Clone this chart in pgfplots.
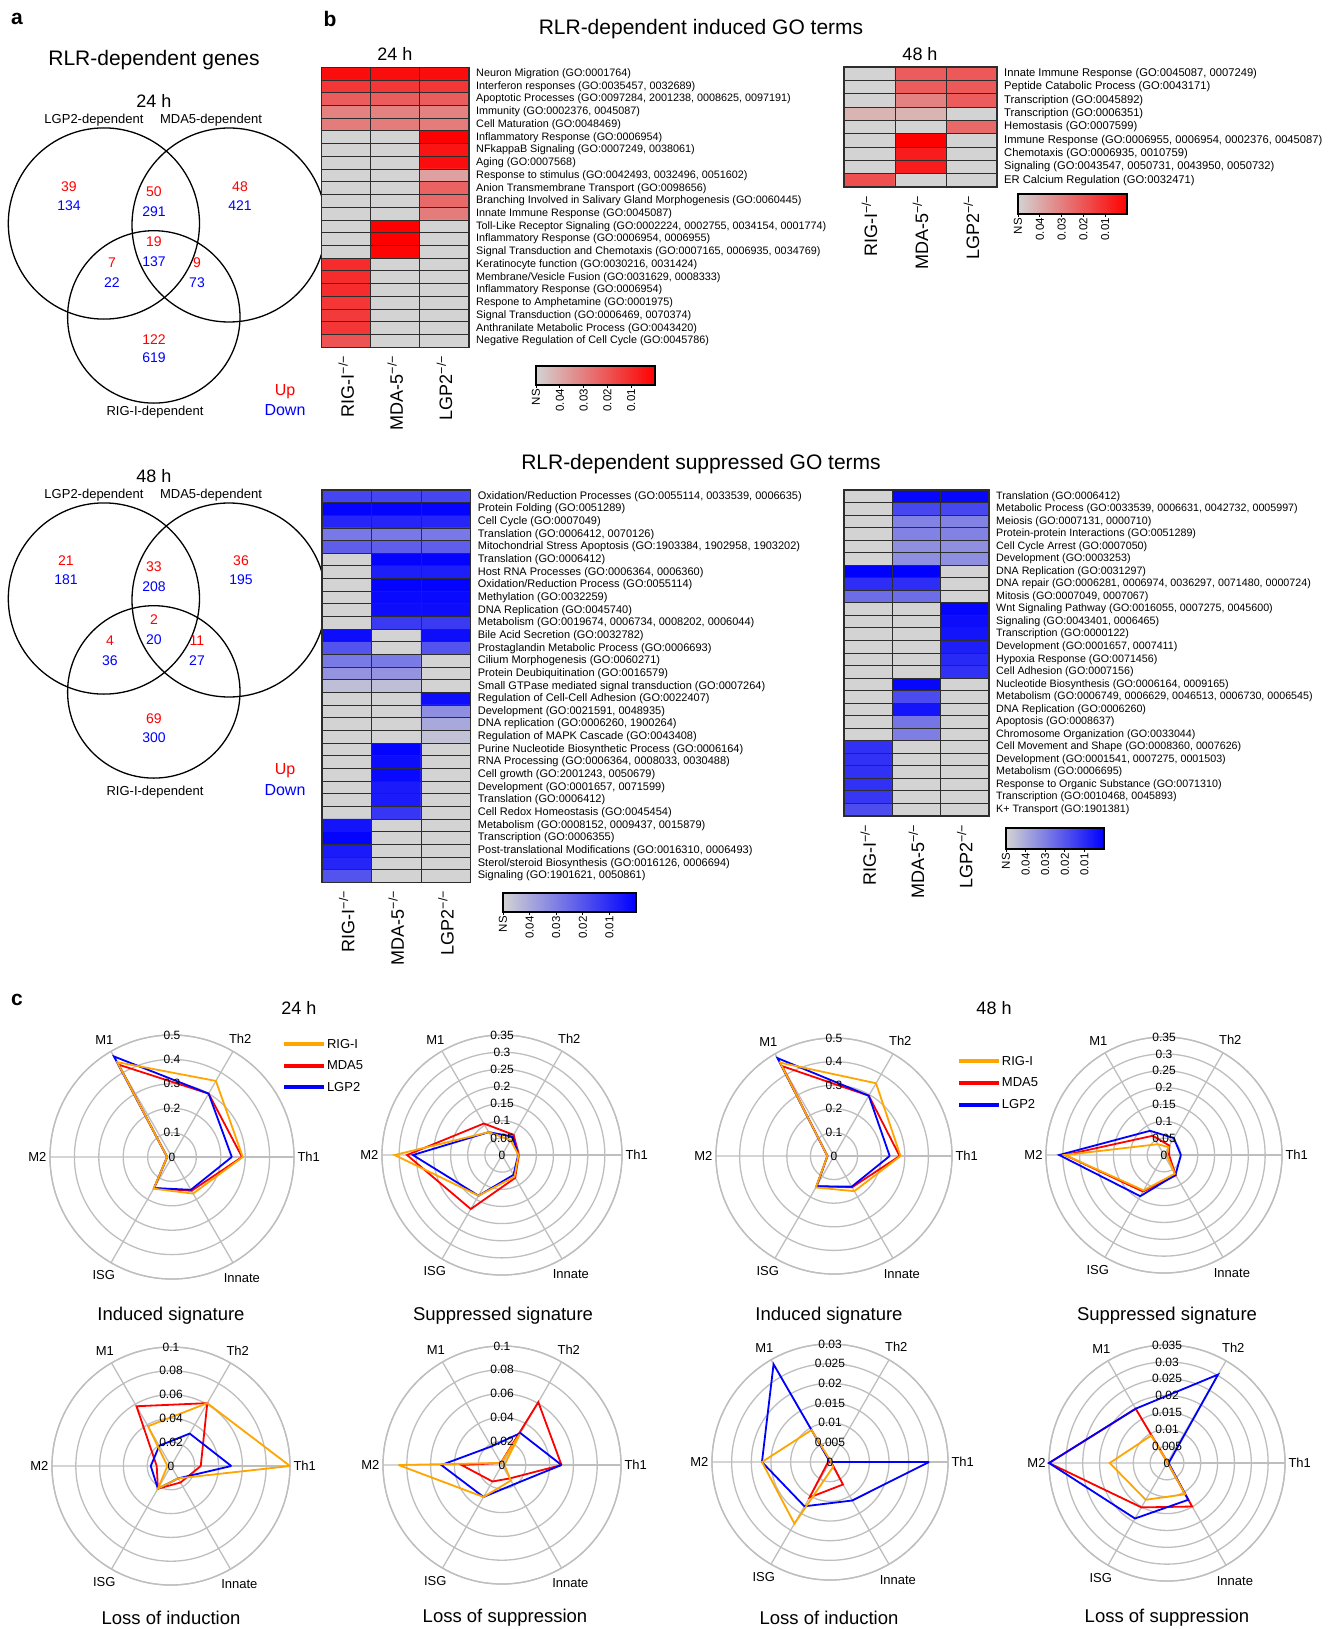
\documentclass[border=0pt]{standalone}
\usepackage{pgfplots}
\pgfplotsset{compat=1.18}
\usepgfplotslibrary{polar}
\usepackage{fontspec}
\setmainfont{Liberation Sans}
\newcommand{\fs}[1]{\fontsize{#1}{#1}\selectfont}
\definecolor{nsgray}{RGB}{211,211,211}
\definecolor{rorange}{RGB}{255,165,0}
\definecolor{rred}{RGB}{255,0,0}
\definecolor{rblue}{RGB}{0,0,255}
\definecolor{ringgray}{RGB}{190,190,190}
\definecolor{cellline}{RGB}{45,45,45}
\tikzset{rlab/.style={font=\fs{12}, inner sep=0pt}}
\newcommand{\rl}[2]{\node[rlab] at (axis cs:90,#1) {#2};}
\pgfplotsset{
  colormap={reds}{rgb255=(211,211,211) rgb255=(255,0,0)},
  colormap={blues}{rgb255=(211,211,211) rgb255=(0,0,255)},
  hmap/.style={
    scale only axis, anchor=north west, enlargelimits=false, axis on top,
    y dir=reverse, xmin=-0.5, xmax=2.5,
    xtick={0,1,2},
    xticklabels={RIG-I\textsuperscript{−/−},MDA-5\textsuperscript{−/−},LGP2\textsuperscript{−/−}},
    xticklabel pos=lower,
    xticklabel style={rotate=90, anchor=east, font=\fs{18}, inner sep=0pt},
    xticklabel shift=8pt,
    yticklabel pos=right,
    yticklabel style={anchor=west, inner sep=0pt},
    yticklabel shift=7pt,
    major tick length=0pt, minor tick length=0pt,
    minor xtick={0.5,1.5},
    xminorgrids, yminorgrids,
    minor grid style={draw=cellline, line width=0.9pt},
    axis line style={draw=cellline, line width=1.2pt},
    point meta min=0, point meta max=1,
  },
  cbar/.style={
    scale only axis, anchor=north west, xmin=0, xmax=1, ymin=0, ymax=1,
    ytick=\empty, xtick={0,0.2,0.4,0.6,0.8},
    xticklabels={NS,0.04,0.03,0.02,0.01},
    xticklabel style={rotate=90, anchor=east, font=\fs{11.5}, inner sep=1pt},
    xtick pos=bottom, tick align=outside, major tick length=3pt,
    tick style={black, line width=0.8pt},
    axis on top, axis line style={line width=1.3pt, black},
  },
  radar/.style={
    scale only axis, anchor=center, clip=false,
    xmin=0, xmax=360, ymin=0,
    xtick={0,60,120,180,240,300},
    xticklabels={Th1,Th2,M1,M2,ISG,Innate},
    xticklabel style={font=\fs{13}},
    yticklabels={}, scaled y ticks=false,
    yticklabel style={opacity=0},
    major tick length=0pt,
    xmajorgrids, ymajorgrids,
    major grid style={draw=ringgray, line width=1.3pt},
    axis line style={draw=ringgray, line width=1.3pt},
    every axis plot/.append style={line width=1.8pt, line join=miter, miter limit=4},
  },
  rleg/.style={
    legend style={draw=none, fill=none, font=\fs{13}, row sep=9pt, inner sep=0pt,
      nodes={inner sep=1pt}, cells={anchor=west}},
    legend image code/.code={\draw[##1, line width=4pt] (0pt,0pt) -- (40pt,0pt);},
  },
}
\begin{document}
\begin{tikzpicture}
\useasboundingbox (0pt,0pt) rectangle (1333pt,-1629pt);

% ---------------- panel a : Venn diagrams ----------------
\begin{scope}[x=1pt,y=-1pt]
\node[font=\fs{21}\bfseries] at (17,19) {a};
\node[font=\fs{21}\bfseries] at (330,19) {b};
\node[font=\fs{21}\bfseries] at (17,1000) {c};
\node[font=\fs{21}] at (154,60) {RLR-dependent genes};
% 24 h
\node[font=\fs{18}] at (154,101) {24 h};
\node[font=\fs{13}] at (94,120) {LGP2-dependent};
\node[font=\fs{13}] at (211,120) {MDA5-dependent};
\draw[line width=1.3pt] (103.9,223.5) circle[radius=95.6pt];
\draw[line width=1.3pt] (229,225) circle[radius=97pt];
\draw[line width=1.3pt] (153.8,316.9) circle[radius=86.2pt];
\begin{scope}[font=\fs{14}]
\node[rred] at (69,187) {39}; \node[rblue] at (69,206) {134};
\node[rred] at (154,192) {50}; \node[rblue] at (154,212) {291};
\node[rred] at (240,187) {48}; \node[rblue] at (240,206) {421};
\node[rred] at (112,263) {7}; \node[rblue] at (112,283) {22};
\node[rred] at (154,242) {19}; \node[rblue] at (154,262) {137};
\node[rred] at (197,263) {9}; \node[rblue] at (197,283) {73};
\node[rred] at (154,340) {122}; \node[rblue] at (154,358) {619};
\end{scope}
\node[font=\fs{13}] at (155,412) {RIG-I-dependent};
\node[font=\fs{16}, rred] at (285,392) {Up};
\node[font=\fs{16}, rblue] at (285,410) {Down};
% 48 h
\node[font=\fs{18}] at (154,476) {48 h};
\node[font=\fs{13}] at (94,495) {LGP2-dependent};
\node[font=\fs{13}] at (211,495) {MDA5-dependent};
\draw[line width=1.3pt] (103.9,598.5) circle[radius=95.6pt];
\draw[line width=1.3pt] (229,600) circle[radius=97pt];
\draw[line width=1.3pt] (153.8,691.9) circle[radius=86.2pt];
\begin{scope}[font=\fs{14}]
\node[rred] at (66,561) {21}; \node[rblue] at (66,580) {181};
\node[rred] at (154,567) {33}; \node[rblue] at (154,587) {208};
\node[rred] at (241,561) {36}; \node[rblue] at (241,580) {195};
\node[rred] at (110,641) {4}; \node[rblue] at (110,661) {36};
\node[rred] at (154,620) {2}; \node[rblue] at (154,640) {20};
\node[rred] at (197,641) {11}; \node[rblue] at (197,661) {27};
\node[rred] at (154,719) {69}; \node[rblue] at (154,738) {300};
\end{scope}
\node[font=\fs{13}] at (155,792) {RIG-I-dependent};
\node[font=\fs{16}, rred] at (285,771) {Up};
\node[font=\fs{16}, rblue] at (285,790) {Down};
% panel b / c headings
\node[font=\fs{21}] at (701,29) {RLR-dependent induced GO terms};
\node[font=\fs{21}] at (701,464) {RLR-dependent suppressed GO terms};
\node[font=\fs{18}] at (395,54) {24 h};
\node[font=\fs{18}] at (920,54) {48 h};
\node[font=\fs{18}] at (299,1008) {24 h};
\node[font=\fs{18}] at (994,1008) {48 h};
\begin{scope}[font=\fs{18.5}]
\node at (171,1316) {Induced signature};
\node at (503,1316) {Suppressed signature};
\node at (829,1316) {Induced signature};
\node at (1167,1316) {Suppressed signature};
\node at (171,1618) {Loss of induction};
\node at (505,1618) {Loss of suppression};
\node at (829,1618) {Loss of induction};
\node at (1167,1618) {Loss of suppression};
\end{scope}
\end{scope}

% ---------------- heatmap: 24 h induced ----------------
\begin{axis}[hmap, colormap name=reds, at={(321.7pt,-67.3pt)}, width=147.3pt, height=280pt,
  ymin=-0.5, ymax=21.5, ytick={0,...,21}, minor ytick={0.5,1.5,...,20.5},
  yticklabel style={font=\fs{10.8}},
  yticklabels={{Neuron Migration (GO:0001764)},{Interferon responses (GO:0035457, 0032689)},{Apoptotic Processes (GO:0097284, 2001238, 0008625, 0097191)},{Immunity (GO:0002376, 0045087)},{Cell Maturation (GO:0048469)},{Inflammatory Response (GO:0006954)},{NFkappaB Signaling (GO:0007249, 0038061)},{Aging (GO:0007568)},{Response to stimulus (GO:0042493, 0032496, 0051602)},{Anion Transmembrane Transport (GO:0098656)},{Branching Involved in Salivary Gland Morphogenesis (GO:0060445)},{Innate Immune Response (GO:0045087)},{Toll-Like Receptor Signaling (GO:0002224, 0002755, 0034154, 0001774)},{Inflammatory Response (GO:0006954, 0006955)},{Signal Transduction and Chemotaxis (GO:0007165, 0006935, 0034769)},{Keratinocyte function (GO:0030216, 0031424)},{Membrane/Vesicle Fusion (GO:0031629, 0008333)},{Inflammatory Response (GO:0006954)},{Respone to Amphetamine (GO:0001975)},{Signal Transduction (GO:0006469, 0070374)},{Anthranilate Metabolic Process (GO:0043420)},{Negative Regulation of Cell Cycle (GO:0045786)}}]
\addplot[matrix plot*, mesh/cols=3, point meta=explicit] coordinates {
(0,0)[.93] (1,0)[.93] (2,0)[.93]
(0,1)[.74] (1,1)[.74] (2,1)[.74]
(0,2)[.56] (1,2)[.56] (2,2)[.56]
(0,3)[.38] (1,3)[.38] (2,3)[.38]
(0,4)[.41] (1,4)[.41] (2,4)[.41]
(0,5)[0] (1,5)[0] (2,5)[1]
(0,6)[0] (1,6)[0] (2,6)[.9]
(0,7)[0] (1,7)[0] (2,7)[.93]
(0,8)[0] (1,8)[0] (2,8)[.24]
(0,9)[0] (1,9)[0] (2,9)[.53]
(0,10)[0] (1,10)[0] (2,10)[.5]
(0,11)[0] (1,11)[0] (2,11)[.41]
(0,12)[0] (1,12)[1] (2,12)[0]
(0,13)[0] (1,13)[1] (2,13)[0]
(0,14)[0] (1,14)[.97] (2,14)[0]
(0,15)[.79] (1,15)[0] (2,15)[0]
(0,16)[.79] (1,16)[0] (2,16)[0]
(0,17)[.79] (1,17)[0] (2,17)[0]
(0,18)[.74] (1,18)[0] (2,18)[0]
(0,19)[.72] (1,19)[0] (2,19)[0]
(0,20)[.74] (1,20)[0] (2,20)[0]
(0,21)[.6] (1,21)[0] (2,21)[0]
};
\end{axis}
\begin{axis}[cbar, at={(536pt,-366pt)}, width=119pt, height=19pt]
\shade[left color=nsgray, right color=rred] (axis cs:0,0) rectangle (axis cs:1,1);
\end{axis}

% ---------------- heatmap: 48 h induced ----------------
\begin{axis}[hmap, colormap name=reds, at={(844pt,-67pt)}, width=153pt, height=120pt,
  ymin=-0.5, ymax=8.5, ytick={0,...,8}, minor ytick={0.5,1.5,...,7.5},
  yticklabel style={font=\fs{11.2}},
  yticklabels={{Innate Immune Response (GO:0045087, 0007249)},{Peptide Catabolic Process (GO:0043171)},{Transcription (GO:0045892)},{Transcription (GO:0006351)},{Hemostasis (GO:0007599)},{Immune Response (GO:0006955, 0006954, 0002376, 0045087)},{Chemotaxis (GO:0006935, 0010759)},{Signaling (GO:0043547, 0050731, 0043950, 0050732)},{ER Calcium Regulation (GO:0032471)}}]
\addplot[matrix plot*, mesh/cols=3, point meta=explicit] coordinates {
(0,0)[0] (1,0)[.56] (2,0)[.58]
(0,1)[0] (1,1)[.56] (2,1)[.58]
(0,2)[0] (1,2)[.38] (2,2)[.56]
(0,3)[.15] (1,3)[.15] (2,3)[0]
(0,4)[0] (1,4)[0] (2,4)[.5]
(0,5)[0] (1,5)[1] (2,5)[0]
(0,6)[0] (1,6)[.86] (2,6)[0]
(0,7)[0] (1,7)[.86] (2,7)[0]
(0,8)[.62] (1,8)[0] (2,8)[0]
};
\end{axis}
\begin{axis}[cbar, at={(1018pt,-194pt)}, width=109pt, height=20pt]
\shade[left color=nsgray, right color=rred] (axis cs:0,0) rectangle (axis cs:1,1);
\end{axis}

% ---------------- heatmap: 24 h suppressed ----------------
\begin{axis}[hmap, colormap name=blues, at={(322pt,-490pt)}, width=148.7pt, height=392.3pt,
  ymin=-0.5, ymax=30.5, ytick={0,...,30}, minor ytick={0.5,1.5,...,29.5},
  yticklabel style={font=\fs{11}},
  yticklabels={{Oxidation/Reduction Processes (GO:0055114, 0033539, 0006635)},{Protein Folding (GO:0051289)},{Cell Cycle (GO:0007049)},{Translation (GO:0006412, 0070126)},{Mitochondrial Stress Apoptosis (GO:1903384, 1902958, 1903202)},{Translation (GO:0006412)},{Host RNA Processes (GO:0006364, 0006360)},{Oxidation/Reduction Process (GO:0055114)},{Methylation (GO:0032259)},{DNA Replication (GO:0045740)},{Metabolism (GO:0019674, 0006734, 0008202, 0006044)},{Bile Acid Secretion (GO:0032782)},{Prostaglandin Metabolic Process (GO:0006693)},{Cilium Morphogenesis (GO:0060271)},{Protein Deubiquitination (GO:0016579)},{Small GTPase mediated signal transduction (GO:0007264)},{Regulation of Cell-Cell Adhesion (GO:0022407)},{Development (GO:0021591, 0048935)},{DNA replication (GO:0006260, 1900264)},{Regulation of MAPK Cascade (GO:0043408)},{Purine Nucleotide Biosynthetic Process (GO:0006164)},{RNA Processing (GO:0006364, 0008033, 0030488)},{Cell growth (GO:2001243, 0050679)},{Development (GO:0001657, 0071599)},{Translation (GO:0006412)},{Cell Redox Homeostasis (GO:0045454)},{Metabolism (GO:0008152, 0009437, 0015879)},{Transcription (GO:0006355)},{Post-translational Modifications (GO:0016310, 0006493)},{Sterol/steroid Biosynthesis (GO:0016126, 0006694)},{Signaling (GO:1901621, 0050861)}}]
\addplot[matrix plot*, mesh/cols=3, point meta=explicit] coordinates {
(0,0)[.67] (1,0)[.67] (2,0)[.67]
(0,1)[.98] (1,1)[.98] (2,1)[.98]
(0,2)[.82] (1,2)[.82] (2,2)[.82]
(0,3)[.43] (1,3)[.43] (2,3)[.43]
(0,4)[.55] (1,4)[.55] (2,4)[.55]
(0,5)[0] (1,5)[.98] (2,5)[.98]
(0,6)[0] (1,6)[.85] (2,6)[.85]
(0,7)[0] (1,7)[.98] (2,7)[.98]
(0,8)[0] (1,8)[.95] (2,8)[.95]
(0,9)[0] (1,9)[.93] (2,9)[.93]
(0,10)[0] (1,10)[.72] (2,10)[.72]
(0,11)[.93] (1,11)[0] (2,11)[.93]
(0,12)[.6] (1,12)[0] (2,12)[.6]
(0,13)[.42] (1,13)[.42] (2,13)[0]
(0,14)[.3] (1,14)[.3] (2,14)[0]
(0,15)[.1] (1,15)[.1] (2,15)[0]
(0,16)[0] (1,16)[0] (2,16)[.93]
(0,17)[0] (1,17)[0] (2,17)[.32]
(0,18)[0] (1,18)[0] (2,18)[.2]
(0,19)[0] (1,19)[0] (2,19)[.08]
(0,20)[0] (1,20)[.98] (2,20)[0]
(0,21)[0] (1,21)[.93] (2,21)[0]
(0,22)[0] (1,22)[.95] (2,22)[0]
(0,23)[0] (1,23)[.87] (2,23)[0]
(0,24)[0] (1,24)[.87] (2,24)[0]
(0,25)[0] (1,25)[.74] (2,25)[0]
(0,26)[.9] (1,26)[0] (2,26)[0]
(0,27)[.98] (1,27)[0] (2,27)[0]
(0,28)[.87] (1,28)[0] (2,28)[0]
(0,29)[.82] (1,29)[0] (2,29)[0]
(0,30)[.6] (1,30)[0] (2,30)[0]
};
\end{axis}
\begin{axis}[cbar, at={(503pt,-893pt)}, width=133pt, height=19pt]
\shade[left color=nsgray, right color=rblue] (axis cs:0,0) rectangle (axis cs:1,1);
\end{axis}

% ---------------- heatmap: 48 h suppressed ----------------
\begin{axis}[hmap, colormap name=blues, at={(844pt,-490pt)}, width=145pt, height=326pt,
  ymin=-0.5, ymax=25.5, ytick={0,...,25}, minor ytick={0.5,1.5,...,24.5},
  yticklabel style={font=\fs{10.7}},
  yticklabels={{Translation (GO:0006412)},{Metabolic Process (GO:0033539, 0006631, 0042732, 0005997)},{Meiosis (GO:0007131, 0000710)},{Protein-protein Interactions (GO:0051289)},{Cell Cycle Arrest (GO:0007050)},{Development (GO:0003253)},{DNA Replication (GO:0031297)},{DNA repair (GO:0006281, 0006974, 0036297, 0071480, 0000724)},{Mitosis (GO:0007049, 0007067)},{Wnt Signaling Pathway (GO:0016055, 0007275, 0045600)},{Signaling (GO:0043401, 0006465)},{Transcription (GO:0000122)},{Development (GO:0001657, 0007411)},{Hypoxia Response (GO:0071456)},{Cell Adhesion (GO:0007156)},{Nucleotide Biosynthesis (GO:0006164, 0009165)},{Metabolism (GO:0006749, 0006629, 0046513, 0006730, 0006545)},{DNA Replication (GO:0006260)},{Apoptosis (GO:0008637)},{Chromosome Organization (GO:0033044)},{Cell Movement and Shape (GO:0008360, 0007626)},{Development (GO:0001541, 0007275, 0001503)},{Metabolism (GO:0006695)},{Response to Organic Substance (GO:0071310)},{Transcription (GO:0010468, 0045893)},{K+ Transport (GO:1901381)}}]
\addplot[matrix plot*, mesh/cols=3, point meta=explicit] coordinates {
(0,0)[0] (1,0)[.96] (2,0)[.96]
(0,1)[0] (1,1)[.66] (2,1)[.66]
(0,2)[0] (1,2)[.38] (2,2)[.38]
(0,3)[0] (1,3)[.38] (2,3)[.38]
(0,4)[0] (1,4)[.32] (2,4)[.32]
(0,5)[0] (1,5)[.32] (2,5)[.32]
(0,6)[1] (1,6)[1] (2,6)[0]
(0,7)[.78] (1,7)[.78] (2,7)[0]
(0,8)[.48] (1,8)[.48] (2,8)[0]
(0,9)[0] (1,9)[0] (2,9)[.97]
(0,10)[0] (1,10)[0] (2,10)[.93]
(0,11)[0] (1,11)[0] (2,11)[.9]
(0,12)[0] (1,12)[0] (2,12)[.85]
(0,13)[0] (1,13)[0] (2,13)[.8]
(0,14)[0] (1,14)[0] (2,14)[.76]
(0,15)[0] (1,15)[.96] (2,15)[0]
(0,16)[0] (1,16)[.64] (2,16)[0]
(0,17)[0] (1,17)[.9] (2,17)[0]
(0,18)[0] (1,18)[.44] (2,18)[0]
(0,19)[0] (1,19)[.4] (2,19)[0]
(0,20)[.76] (1,20)[0] (2,20)[0]
(0,21)[.76] (1,21)[0] (2,21)[0]
(0,22)[.76] (1,22)[0] (2,22)[0]
(0,23)[.76] (1,23)[0] (2,23)[0]
(0,24)[.74] (1,24)[0] (2,24)[0]
(0,25)[.63] (1,25)[0] (2,25)[0]
};
\end{axis}
\begin{axis}[cbar, at={(1006pt,-828pt)}, width=98pt, height=21pt]
\shade[left color=nsgray, right color=rblue] (axis cs:0,0) rectangle (axis cs:1,1);
\end{axis}

% ---------------- radar 1 : 24 h induced ----------------
\begin{polaraxis}[radar, rleg, at={(172pt,-1157pt)}, width=244pt, height=244pt,
  ymax=0.5, ytick={0.1,0.2,0.3,0.4,0.5},
  legend style={at={(0.95,0.988)}, anchor=north west}]
\addlegendimage{rorange}\addlegendentry{RIG-I}
\addlegendimage{rred}\addlegendentry{MDA5}
\addlegendimage{rblue}\addlegendentry{LGP2}
\addplot[rred, forget plot] coordinates {(0,0.287) (60,0.30) (120,0.437) (180,0.02) (240,0.147) (300,0.16) (360,0.287)};
\addplot[rblue, forget plot] coordinates {(0,0.245) (60,0.30) (120,0.476) (180,0.02) (240,0.147) (300,0.155) (360,0.245)};
\addplot[rorange, forget plot] coordinates {(0,0.29) (60,0.36) (120,0.449) (180,0.02) (240,0.15) (300,0.173) (360,0.29)};
\rl{0}{0}\rl{0.1}{0.1}\rl{0.2}{0.2}\rl{0.3}{0.3}\rl{0.4}{0.4}\rl{0.5}{0.5}
\end{polaraxis}

% ---------------- radar 2 : 24 h suppressed ----------------
\begin{polaraxis}[radar, at={(502pt,-1155pt)}, width=240pt, height=240pt,
  ymax=0.35, ytick={0.05,0.1,0.15,0.2,0.25,0.3,0.35}]
\addplot[rred] coordinates {(0,0.049) (60,0.068) (120,0.106) (180,0.277) (240,0.182) (300,0.077) (360,0.049)};
\addplot[rblue] coordinates {(0,0.047) (60,0.062) (120,0.077) (180,0.26) (240,0.137) (300,0.067) (360,0.047)};
\addplot[rorange] coordinates {(0,0.048) (60,0.05) (120,0.077) (180,0.313) (240,0.137) (300,0.073) (360,0.048)};
\rl{0}{0}\rl{0.05}{0.05}\rl{0.1}{0.1}\rl{0.15}{0.15}\rl{0.2}{0.2}\rl{0.25}{0.25}\rl{0.3}{0.3}\rl{0.35}{0.35}
\end{polaraxis}

% ---------------- radar 3 : 48 h induced ----------------
\begin{polaraxis}[radar, rleg, at={(834pt,-1156pt)}, width=236pt, height=236pt,
  ymax=0.5, ytick={0.1,0.2,0.3,0.4,0.5},
  legend style={at={(1.02,0.928)}, anchor=north west}]
\addlegendimage{rorange}\addlegendentry{RIG-I}
\addlegendimage{rred}\addlegendentry{MDA5}
\addlegendimage{rblue}\addlegendentry{LGP2}
\addplot[rred, forget plot] coordinates {(0,0.278) (60,0.295) (120,0.44) (180,0.028) (240,0.148) (300,0.153) (360,0.278)};
\addplot[rblue, forget plot] coordinates {(0,0.236) (60,0.295) (120,0.479) (180,0.028) (240,0.148) (300,0.15) (360,0.236)};
\addplot[rorange, forget plot] coordinates {(0,0.282) (60,0.356) (120,0.457) (180,0.028) (240,0.154) (300,0.172) (360,0.282)};
\rl{0}{0}\rl{0.1}{0.1}\rl{0.2}{0.2}\rl{0.3}{0.3}\rl{0.4}{0.4}\rl{0.5}{0.5}
\end{polaraxis}

% ---------------- radar 4 : 48 h suppressed ----------------
\begin{polaraxis}[radar, at={(1164pt,-1155pt)}, width=236pt, height=236pt,
  ymax=0.35, ytick={0.05,0.1,0.15,0.2,0.25,0.3,0.35}]
\addplot[rred] coordinates {(0,0.015) (60,0.032) (120,0.066) (180,0.294) (240,0.125) (300,0.07) (360,0.015)};
\addplot[rblue] coordinates {(0,0.05) (60,0.058) (120,0.083) (180,0.311) (240,0.141) (300,0.068) (360,0.05)};
\addplot[rorange] coordinates {(0,0.008) (60,0.027) (120,0.037) (180,0.294) (240,0.121) (300,0.064) (360,0.008)};
\rl{0}{0}\rl{0.05}{0.05}\rl{0.1}{0.1}\rl{0.15}{0.15}\rl{0.2}{0.2}\rl{0.25}{0.25}\rl{0.3}{0.3}\rl{0.35}{0.35}
\end{polaraxis}

% ---------------- radar 5 : 24 h loss of induction ----------------
\begin{polaraxis}[radar, at={(171pt,-1466pt)}, width=238pt, height=238pt,
  ymax=0.1, ytick={0.02,0.04,0.06,0.08,0.1}]
\addplot[rred] coordinates {(0,0.025) (60,0.061) (120,0.058) (180,0.012) (240,0.022) (300,0.016) (360,0.025)};
\addplot[rblue] coordinates {(0,0.0507) (60,0.0315) (120,0.0197) (180,0.017) (240,0.022) (300,0.012) (360,0.0507)};
\addplot[rorange] coordinates {(0,0.1) (60,0.061) (120,0.0386) (180,0.003) (240,0.022) (300,0.012) (360,0.1)};
\rl{0}{0}\rl{0.02}{0.02}\rl{0.04}{0.04}\rl{0.06}{0.06}\rl{0.08}{0.08}\rl{0.1}{0.1}
\end{polaraxis}

% ---------------- radar 6 : 24 h loss of suppression ----------------
\begin{polaraxis}[radar, at={(502pt,-1465pt)}, width=238pt, height=238pt,
  ymax=0.1, ytick={0.02,0.04,0.06,0.08,0.1}]
\addplot[rred] coordinates {(0,0.05) (60,0.061) (120,0.002) (180,0.034) (240,0.016) (300,0.013) (360,0.05)};
\addplot[rblue] coordinates {(0,0.05) (60,0.031) (120,0.018) (180,0.051) (240,0.031) (300,0.019) (360,0.05)};
\addplot[rorange] coordinates {(0,0.002) (60,0.03) (120,0.002) (180,0.087) (240,0.031) (300,0.015) (360,0.002)};
\rl{0}{0}\rl{0.02}{0.02}\rl{0.04}{0.04}\rl{0.06}{0.06}\rl{0.08}{0.08}\rl{0.1}{0.1}
\end{polaraxis}

% ---------------- radar 7 : 48 h loss of induction ----------------
\begin{polaraxis}[radar, at={(830pt,-1462pt)}, width=236pt, height=236pt,
  ymax=0.03, ytick={0.005,0.01,0.015,0.02,0.025,0.03}]
\addplot[rred] coordinates {(0,0.0003) (60,0.0003) (120,0.0003) (180,0.0005) (240,0.0104) (300,0.0066) (360,0.0003)};
\addplot[rblue] coordinates {(0,0.0252) (60,0.0) (120,0.0287) (180,0.0173) (240,0.013) (300,0.0113) (360,0.0252)};
\addplot[rorange] coordinates {(0,0.0003) (60,0.0003) (120,0.0094) (180,0.0173) (240,0.0181) (300,0.0015) (360,0.0003)};
\rl{0}{0}\rl{0.005}{0.005}\rl{0.01}{0.01}\rl{0.015}{0.015}\rl{0.02}{0.02}\rl{0.025}{0.025}\rl{0.03}{0.03}
\end{polaraxis}

% ---------------- radar 8 : 48 h loss of suppression ----------------
\begin{polaraxis}[radar, at={(1167pt,-1463pt)}, width=236pt, height=236pt,
  ymax=0.035, ytick={0.005,0.01,0.015,0.02,0.025,0.03,0.035}]
\addplot[rred] coordinates {(0,0.0003) (60,0.0003) (120,0.0186) (180,0.035) (240,0.0152) (300,0.0149) (360,0.0003)};
\addplot[rblue] coordinates {(0,0.0005) (60,0.0303) (120,0.0186) (180,0.035) (240,0.019) (300,0.0126) (360,0.0005)};
\addplot[rorange] coordinates {(0,0.0003) (60,0.0003) (120,0.0094) (180,0.017) (240,0.0126) (300,0.0107) (360,0.0003)};
\rl{0}{0}\rl{0.005}{0.005}\rl{0.01}{0.01}\rl{0.015}{0.015}\rl{0.02}{0.02}\rl{0.025}{0.025}\rl{0.03}{0.03}\rl{0.035}{0.035}
\end{polaraxis}
\end{tikzpicture}
\end{document}
